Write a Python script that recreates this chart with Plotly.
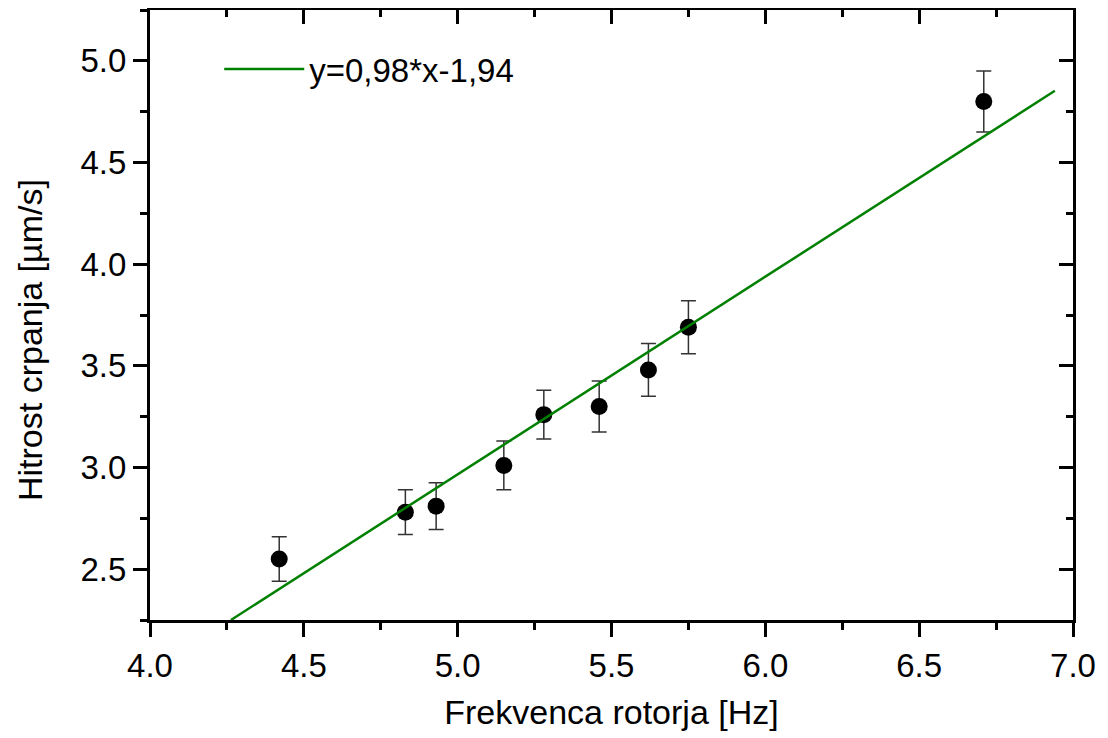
import plotly.graph_objects as go

# Data
freq = [4.42, 4.83, 4.93, 5.15, 5.28, 5.46, 5.62, 5.75, 6.71]
speed = [2.55, 2.78, 2.81, 3.01, 3.26, 3.30, 3.48, 3.69, 4.80]
speed_err = [0.11, 0.11, 0.115, 0.12, 0.12, 0.125, 0.13, 0.13, 0.15]

fit_x = [4.263, 6.941]
fit_y = [2.25, 4.853]
fit_label = "y=0,98*x-1,94"

x_title = "Frekvenca rotorja [Hz]"
y_title = "Hitrost crpanja [µm/s]"

FONT = "Liberation Sans, Arial, sans-serif"
x_range = [4.0, 7.0]
y_range = [2.25, 5.25]

fig = go.Figure()

fig.add_trace(go.Scatter(
    x=freq, y=speed, mode="markers",
    marker=dict(color="black", size=17, symbol="circle"),
    error_y=dict(type="data", array=speed_err, visible=True,
                 color="#333333", thickness=1.5, width=7.5),
    showlegend=False,
))

fig.add_trace(go.Scatter(
    x=fit_x, y=fit_y, mode="lines",
    line=dict(color="#008000", width=2.5),
    name=fit_label, showlegend=True,
))

axis_common = dict(
    showgrid=False, zeroline=False, showline=True,
    linecolor="black", linewidth=3,
    tickcolor="black", tickwidth=2.5,
    dtick=0.5,
)

fig.update_layout(
    width=1100, height=730,
    margin=dict(l=142, r=35, t=2, b=118, autoexpand=False),
    paper_bgcolor="white", plot_bgcolor="white",
    font=dict(family=FONT, size=33, color="black"),
    xaxis=dict(
        **axis_common, range=x_range, tick0=4.0,
        ticks="outside", ticklen=14, tickformat=".1f",
        minor=dict(dtick=0.25, ticks="outside", ticklen=7,
                   tickwidth=2.5, tickcolor="black"),
        title=dict(text=x_title, font=dict(size=34), standoff=18),
        tickfont=dict(size=33),
    ),
    yaxis=dict(
        **axis_common, range=y_range, tick0=2.5,
        ticks="outside", ticklen=14, tickformat=".1f",
        minor=dict(dtick=0.25, ticks="outside", ticklen=7,
                   tickwidth=2.5, tickcolor="black"),
        tickfont=dict(size=33),
    ),
    xaxis2=dict(
        **axis_common, range=x_range, tick0=4.0, overlaying="x",
        side="top", anchor="y", ticks="inside", ticklen=14,
        showticklabels=False,
        minor=dict(dtick=0.25, ticks="inside", ticklen=7,
                   tickwidth=2.5, tickcolor="black"),
    ),
    yaxis2=dict(
        **axis_common, range=y_range, tick0=2.5, overlaying="y",
        side="right", anchor="x", ticks="inside", ticklen=14,
        showticklabels=False,
        minor=dict(dtick=0.25, ticks="inside", ticklen=7,
                   tickwidth=2.5, tickcolor="black"),
    ),
    legend=dict(
        x=0.075, y=0.949, xanchor="left", yanchor="top",
        bgcolor="rgba(0,0,0,0)", borderwidth=0,
        font=dict(size=33), itemwidth=80,
    ),
    showlegend=True,
)

# y-axis title (placed as in the reference, slightly below axis centre)
fig.add_annotation(
    text=y_title, xref="paper", yref="paper",
    x=-0.13, y=0.459, xanchor="center", yanchor="middle",
    textangle=-90, showarrow=False, font=dict(size=34),
)

# invisible trace so the mirrored axes are rendered
fig.add_trace(go.Scatter(x=[None], y=[None], xaxis="x2", yaxis="y2",
                         showlegend=False, hoverinfo="skip"))

fig.write_html("out.html")
